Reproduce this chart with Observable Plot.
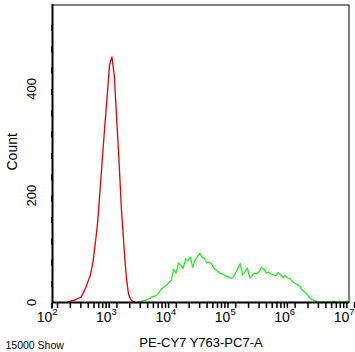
<!DOCTYPE html>
<html><head><meta charset="utf-8">
<script src="https://cdn.jsdelivr.net/npm/d3@7"></script>
<script src="https://cdn.jsdelivr.net/npm/@observablehq/plot@0.6"></script>
<style>body{margin:0;background:#fff}</style>
</head><body><div id="chart"></div>
<script>
// Histogram channels: log10 of first bin and log step between bins
const redStartLog = 2.24;
const greenStartLog = 3.44;
const binStepLog = 0.04;
const redCounts = [0,2,3,4,6,8,10,18,28,40,52,75,110,150,210,270,330,385,445,460,425,345,265,175,110,50,15,5,1,0];
const greenCounts = [0,1,3,4,6,8,11,12,14,20,26,29,33,37,42,62,55,74,70,64,82,78,85,66,80,86,92,85,82,74,76,72,64,60,56,54,52,50,48,45,47,55,64,73,52,58,65,46,50,55,54,58,66,62,55,57,53,52,50,56,52,47,50,46,45,39,36,34,31,24,20,16,10,6,4,2,1,0,1,0,1,0,2,2,0,1,0,1,2,5];
const yTicks = [0,40,80,120,160,200,240,280,320,360,400,440,480,520];
const yLabels = [0,200,400];
const xMajor = [1e2,1e3,1e4,1e5,1e6,1e7];
const xMinorFactors = [2,3,4,5,6,7,8,9];
const xTitle = "PE-CY7 Y763-PC7-A";
const yTitle = "Count";
const eventNote = "15000 Show";

const toRows = (start, counts) => counts.map((c, i) => ({x: Math.pow(10, start + i * binStepLog), y: c}));
const red = toRows(redStartLog, redCounts);
const green = toRows(greenStartLog, greenCounts);
const xMinor = xMajor.slice(0, -1).flatMap(d => xMinorFactors.map(m => m * d));

const narrow = "'Liberation Sans Narrow','Arial Narrow','Liberation Sans',Arial,sans-serif";
const plot = Plot.plot({
  width: 355, height: 352,
  marginLeft: 52, marginRight: 6, marginTop: 4, marginBottom: 50,
  x: {type: "log", domain: [1e2, 1e7]},
  y: {domain: [0, 558]},
  style: {fontFamily: "'Liberation Sans',Arial,sans-serif", background: "#fff", color: "#000"},
  marks: [
    Plot.frame({stroke: "#000", strokeWidth: 1, insetTop: 0.5, insetRight: 0.5}),
    Plot.axisY(yTicks, {tickSize: 6, tickPadding: 15, strokeWidth: 2, rotate: -90, textAnchor: "middle", fontSize: 13, fontFamily: narrow, tickFormat: d => yLabels.includes(d) ? String(d) : "", label: null}),
    Plot.axisX(xMinor, {tickSize: 6, strokeWidth: 1.5, tickFormat: () => "", label: null}),
    Plot.axisX(xMajor, {tickSize: 6, tickPadding: 4, strokeWidth: 1.5, fontSize: 14, textAnchor: "end", dx: 5, tickFormat: d => "10" + Math.round(Math.log10(d)), label: null}),
    Plot.line(red, {x: "x", y: "y", stroke: "#e00000", strokeWidth: 1.3}),
    Plot.line(green, {x: "x", y: "y", stroke: "#22ee22", strokeWidth: 1.3}),
    Plot.ruleX([1e2], {stroke: "#000", strokeWidth: 2}),
    Plot.ruleY([0], {stroke: "#000", strokeWidth: 2}),
    Plot.text([yTitle], {frameAnchor: "left", lineAnchor: "middle", dx: -40, dy: 17, rotate: -90, fontSize: 14, fontFamily: narrow}),
    Plot.text([xTitle], {frameAnchor: "bottom", lineAnchor: "middle", dy: 40, fontSize: 13, letterSpacing: 1}),
    Plot.text([eventNote], {frameAnchor: "bottom-left", lineAnchor: "middle", textAnchor: "start", dx: -47, dy: 43, fontSize: 10.5})
  ]
});
d3.select(plot).selectAll("text").each(function() {
  const t = this.textContent;
  const m = /^10(\d)$/.exec(t);
  if (m && this.childNodes.length === 1) {
    const sel = d3.select(this);
    sel.text("10");
    sel.append("tspan").attr("dy", "-7.5").attr("font-size", 9.5).text(m[1]);
  }
});
document.getElementById("chart").appendChild(plot);
</script>
</body></html>
